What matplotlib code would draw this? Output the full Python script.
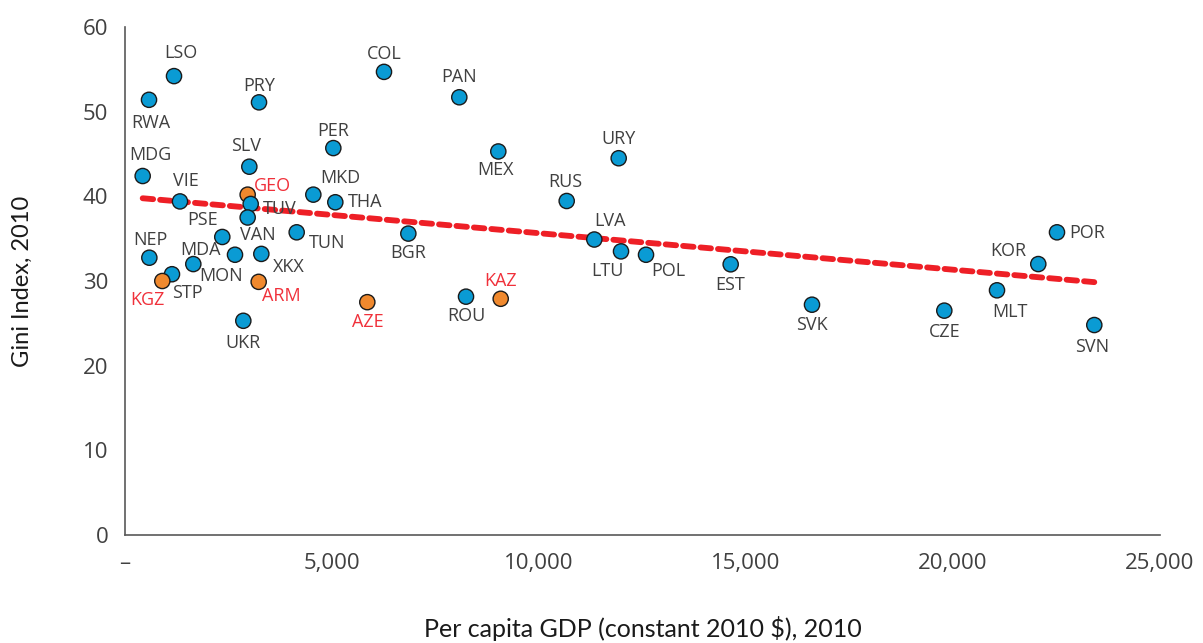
import numpy as np
import matplotlib
matplotlib.use("Agg")
import matplotlib.pyplot as plt
from matplotlib.ticker import FuncFormatter

# ---- data ----
countries = ["LSO", "RWA", "PRY", "MDG", "VIE", "SLV", "GEO", "TUV", "PSE", "VAN",
             "NEP", "MDA", "MON", "XKX", "STP", "KGZ", "ARM", "UKR", "MKD", "THA",
             "TUN", "AZE", "PER", "COL", "PAN", "MEX", "URY", "RUS", "BGR", "LVA",
             "LTU", "POL", "ROU", "KAZ", "EST", "SVK", "CZE", "MLT", "KOR", "POR", "SVN"]
gdp = [1184, 580, 3237, 427, 1328, 3003, 2963, 3036, 2350, 2963,
       588, 1650, 2657, 3293, 1135, 901, 3229, 2858, 4549, 5080,
       4147, 5853, 5032, 6256, 8075, 9017, 11925, 10669, 6844, 11336,
       11981, 12585, 8237, 9075, 14630, 16594, 19790, 21063, 22060, 22512, 23413]
gini = [54.2, 51.4, 51.1, 42.4, 39.4, 43.5, 40.2, 39.1, 35.2, 37.5,
        32.75, 32.0, 33.1, 33.2, 30.8, 30.0, 29.9, 25.3, 40.2, 39.3,
        35.75, 27.5, 45.7, 54.7, 51.7, 45.3, 44.5, 39.45, 35.6, 34.9,
        33.5, 33.1, 28.15, 27.9, 31.97, 27.2, 26.5, 28.9, 32.0, 35.75, 24.8]
highlight = ["GEO", "KGZ", "ARM", "AZE", "KAZ"]

x_ticks = [0, 5000, 10000, 15000, 20000, 25000]
y_ticks = [0, 10, 20, 30, 40, 50, 60]

# label offsets in pixels (dx, dy with dy positive = up)
label_offsets = {
    "LSO": (7, 23), "RWA": (2, -23), "PRY": (0, 16), "MDG": (8, 21), "VIE": (6, 20),
    "SLV": (-3, 21), "GEO": (25, 9), "TUV": (29, -5), "PSE": (-20, 17), "VAN": (10, -18),
    "NEP": (1, 18), "MDA": (7, 14), "MON": (-14, -21), "XKX": (27, -13), "STP": (15, -19),
    "KGZ": (-15, -19), "ARM": (23, -14), "UKR": (0, -22), "MKD": (27, 17), "THA": (30, 0),
    "TUN": (30, -11), "AZE": (0, -20), "PER": (0, 17), "COL": (0, 18), "PAN": (0, 20),
    "MEX": (-3, -19), "URY": (0, 19), "RUS": (-1, 19), "BGR": (0, -19), "LVA": (16, 19),
    "LTU": (-14, -20), "POL": (22, -16), "ROU": (0, -19), "KAZ": (0, 18), "EST": (-1, -21),
    "SVK": (0, -20), "CZE": (0, -21), "MLT": (13, -22), "KOR": (-30, 13), "POR": (30, -1),
    "SVN": (-2, -22),
}

BLUE = "#0a9bd4"
ORANGE = "#f0892e"
RED_TXT = "#f0303a"
TXT = "#404040"
TREND = "#ee1f26"

plt.rcParams['font.family'] = ['Open Sans', 'DejaVu Sans']

fig = plt.figure(figsize=(12.03, 6.43), dpi=100)
ax = fig.add_axes([125/1203, 1-535/643, (1160-125)/1203, (535-27)/643])

gdp_a = np.array(gdp, dtype=float)
gini_a = np.array(gini, dtype=float)
colors = [ORANGE if c in highlight else BLUE for c in countries]

# linear trendline over all points
slope, intercept = np.polyfit(gdp_a, gini_a, 1)
xs = np.array([gdp_a.min(), gdp_a.max()])
ax.plot(xs, slope*xs + intercept, color=TREND, lw=4.2, ls=(0, (1.8, 1.2)),
        dash_capstyle='round', zorder=2)

ax.scatter(gdp_a, gini_a, s=120, c=colors, edgecolors='#1a1a1a', linewidths=1.0, zorder=3)

for c, x, y in zip(countries, gdp, gini):
    dx, dy = label_offsets[c]
    ax.annotate(c, (x, y), xytext=(dx, dy), textcoords='offset pixels',
                ha='center', va='center', fontsize=13,
                color=RED_TXT if c in highlight else TXT, zorder=4)

ax.set_xlim(0, 25000)
ax.set_ylim(0, 60)
ax.set_xticks(x_ticks)
ax.set_yticks(y_ticks)
ax.xaxis.set_major_formatter(FuncFormatter(lambda v, p: "–" if v == 0 else f"{int(v):,}"))
ax.tick_params(axis='both', length=0, labelsize=16, colors=TXT)
ax.tick_params(axis='x', pad=13)
ax.tick_params(axis='y', pad=12)
for s in ["top", "right"]:
    ax.spines[s].set_visible(False)
for s in ["left", "bottom"]:
    ax.spines[s].set_color("#595959")
    ax.spines[s].set_linewidth(1.2)

ax.set_ylabel("Gini Index, 2010", fontsize=17, color="#1a1a1a", labelpad=36,
              family=['Lato', 'DejaVu Sans'])
ax.set_xlabel("Per capita GDP (constant 2010 $), 2010", fontsize=18, color="#1a1a1a",
              labelpad=30, family=['Lato', 'DejaVu Sans'])

fig.canvas.draw()
for lbl in ax.get_xticklabels():
    if lbl.get_text() == "25,000":
        lbl.set_x(24150)

fig.savefig("out.png", dpi=100)
